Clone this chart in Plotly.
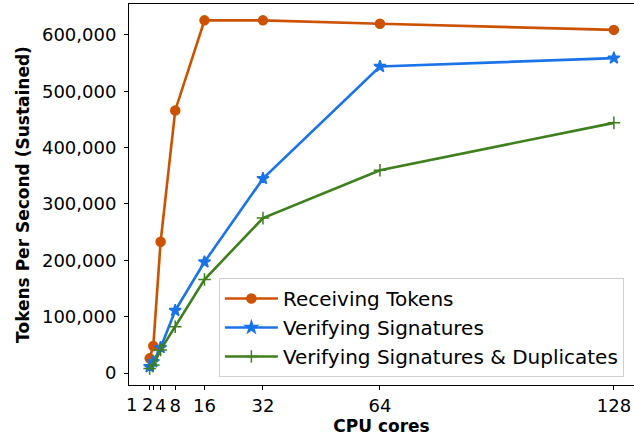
import plotly.graph_objects as go

# CPU core counts and sustained throughput (tokens per second)
cores = [1, 2, 4, 8, 16, 32, 64, 128]
receiving_tokens = [26000, 48000, 233000, 466000, 626000, 626000, 620000, 609000]
verifying_signatures = [11000, 20000, 45000, 111000, 197000, 345000, 544000, 559000]
verifying_sig_dups = [8000, 14000, 41000, 82000, 166000, 275000, 360000, 444000]

series_names = ["Receiving Tokens", "Verifying Signatures", "Verifying Signatures & Duplicates"]
tick_cores = [1, 2, 4, 8, 16, 32, 64, 128]
# the two crowded labels at 1 and 2 cores are nudged left so they stay readable
nudged_ticks = {1: -18, 2: -6}

colors = ["#cc5200", "#1a73e8", "#3e7f1e"]
symbols = ["circle", "star", "cross-thin"]
marker_sizes = [9, 9, 9]

fig = go.Figure()
for name, ys, color, sym, ms in zip(series_names,
                                    [receiving_tokens, verifying_signatures, verifying_sig_dups],
                                    colors, symbols, marker_sizes):
    fig.add_trace(go.Scatter(
        x=cores, y=ys, name=name, mode="lines+markers",
        line=dict(color=color, width=2.6),
        marker=dict(symbol=sym, size=ms, color=color,
                    line=dict(color=color, width=1.5)),
    ))

font_family = "DejaVu Sans"

for c, dx in nudged_ticks.items():
    fig.add_annotation(
        x=c, xref="x", y=0, yref="paper", yanchor="top", xanchor="center",
        text=str(c), showarrow=False, xshift=dx, yshift=-7,
        font=dict(family=font_family, size=18, color="black"),
    )

fig.update_layout(
    width=634, height=438,
    margin=dict(l=129, r=0, t=4, b=53),
    paper_bgcolor="white", plot_bgcolor="white",
    font=dict(family=font_family, size=18, color="black"),
    showlegend=True,
    legend=dict(
        x=0.178, y=0.021, xanchor="left", yanchor="bottom",
        bgcolor="rgba(255,255,255,0.8)", bordercolor="#d0d0d0", borderwidth=1,
        font=dict(family=font_family, size=20, color="black"),
        itemwidth=53, tracegroupgap=0,
    ),
    xaxis=dict(
        range=[-4.65, 133.5], tickvals=tick_cores,
        ticktext=["" if c in nudged_ticks else str(c) for c in tick_cores],
        tickangle=0,
        showgrid=False, zeroline=False,
        showline=True, linecolor="black", linewidth=1, mirror=True,
        ticks="outside", ticklen=4, tickwidth=1, tickcolor="black",
        tickfont=dict(family=font_family, size=18),
        title=dict(text="<b>CPU cores</b>", standoff=4,
                   font=dict(family=font_family, size=17)),
    ),
    yaxis=dict(
        range=[-21300, 655000], tickvals=[0, 100000, 200000, 300000, 400000, 500000, 600000],
        tickformat=",d",
        showgrid=False, zeroline=False,
        showline=True, linecolor="black", linewidth=1, mirror=False,
        ticks="outside", ticklen=4, tickwidth=1, tickcolor="black",
        tickfont=dict(family=font_family, size=18),
        ticklabelstandoff=4,
        title=dict(text="<b>Tokens Per Second (Sustained)</b>", standoff=8,
                   font=dict(family=font_family, size=17)),
    ),
)

fig.write_html("out.html")
